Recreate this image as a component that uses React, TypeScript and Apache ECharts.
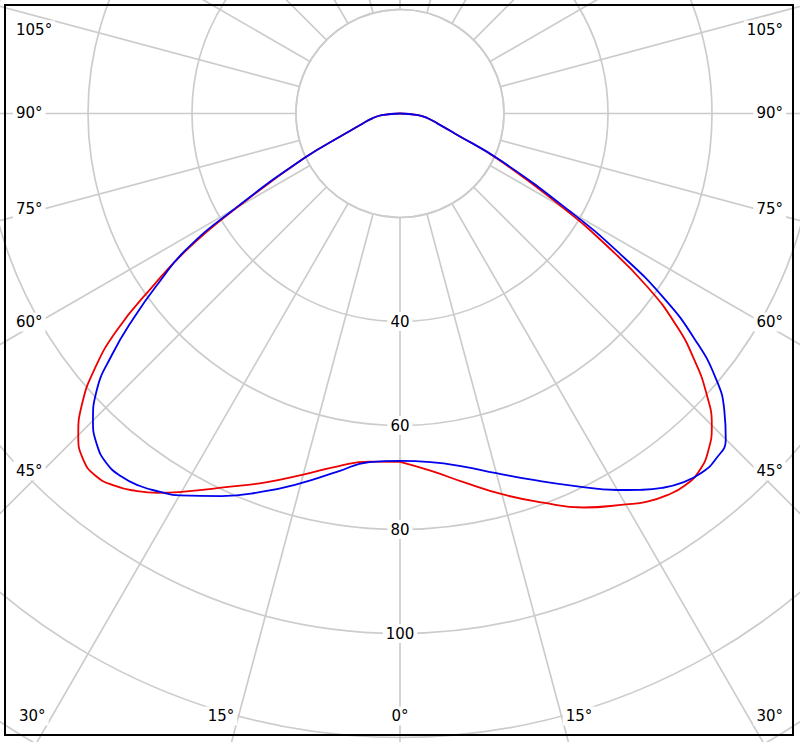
import React, { useEffect, useRef } from 'react';
import * as echarts from 'echarts';

// Polar angles (degrees from nadir) at which intensities were read
const angles = [0, 5, 10, 15, 20, 25, 30, 32.5, 35, 37.5, 40, 42.5, 45, 47.5, 50, 52.5, 55, 57.5, 60, 65, 70, 75, 80, 85, 90];

// Red curve: left half-plane and right half-plane
const redLeft = [67.0, 67.2, 68.9, 71.9, 75.5, 79.3, 84.0, 86.5, 88.6, 90.2, 91.0, 90.2, 87.5, 83.0, 76.8, 68.8, 58.2, 48.2, 36.2, 20.3, 11.0, 7.4, 5.4, 3.5, 0];
const redRight = [67.0, 69.0, 72.1, 75.8, 79.6, 83.6, 86.8, 88.5, 89.6, 90.1, 89.6, 87.8, 84.8, 80.0, 74.0, 67.0, 58.0, 46.8, 36.0, 20.8, 11.2, 7.5, 5.5, 3.5, 0];

// Blue curve: left half-plane and right half-plane
const blueLeft = [66.8, 67.3, 70.0, 73.6, 77.4, 81.2, 84.8, 86.2, 87.4, 88.0, 87.8, 86.3, 83.5, 79.2, 72.4, 64.5, 56.5, 48.9, 37.0, 20.3, 11.0, 7.4, 5.4, 3.5, 0];
const blueRight = [66.8, 67.3, 68.9, 71.6, 75.0, 79.0, 83.6, 85.8, 87.9, 89.4, 90.2, 90.0, 88.6, 84.6, 79.3, 71.6, 62.0, 50.0, 38.0, 21.3, 11.2, 7.5, 5.5, 3.5, 0];

// Radius tick labels shown on the chart
const radiusTicks = [40, 60, 80, 100];

// Angle tick labels
const angleLabels = ['0°', '15°', '30°', '45°', '60°', '75°', '90°', '105°'];

const FONT = '"DejaVu Sans", Verdana, sans-serif';

function buildCurve(left: number[], right: number[]) {
  const pts: [number, number][] = [];
  angles.forEach((a, i) => pts.push([left[i], a]));
  // right half, skipping the shared 90° (centre) and 0° (nadir) points
  for (let i = angles.length - 2; i >= 1; i--) pts.push([right[i], 360 - angles[i]]);
  pts.push([left[0], 360]);
  return pts;
}

export default function App() {
  const ref = useRef<HTMLDivElement>(null);

  useEffect(() => {
    document.body.style.margin = '0';
    const chart = echarts.init(ref.current!, null, { renderer: 'svg' });

    const cx = 400;
    const cy = 113.5;
    const pxPerUnit = 5.2;
    const maxR = 160;
    const innerR = 20;

    // label layout (positions only)
    const sideY: Record<string, number> = { '45°': 471, '60°': 322, '75°': 209, '90°': 113, '105°': 30 };
    const texts: any[] = [];
    const mk = (text: string, x: number, y: number, align: string) => ({
      type: 'text',
      x,
      y,
      z: 50,
      style: {
        text,
        font: `15px ${FONT}`,
        fill: '#000',
        align,
        verticalAlign: 'middle',
        backgroundColor: '#fff',
        padding: [2, 3],
      },
    });
    angleLabels.forEach((t) => {
      if (sideY[t] !== undefined) {
        texts.push(mk(t, 13, sideY[t], 'left'));
        texts.push(mk(t, 786, sideY[t], 'right'));
      }
    });
    texts.push(mk('0°', 400, 716, 'center'));
    texts.push(mk('15°', 221, 716, 'center'));
    texts.push(mk('15°', 579, 716, 'center'));
    texts.push(mk('30°', 16, 716, 'left'));
    texts.push(mk('30°', 786, 716, 'right'));

    const gridColor = '#cccccc';

    chart.setOption({
      animation: false,
      backgroundColor: '#fff',
      polar: {
        center: [cx, cy],
        radius: maxR * pxPerUnit,
      },
      angleAxis: {
        type: 'value',
        min: 0,
        max: 360,
        interval: 15,
        startAngle: 270,
        clockwise: true,
        axisLine: { show: false },
        axisTick: { show: false },
        axisLabel: { show: false },
        splitLine: { show: true, lineStyle: { color: gridColor, width: 1.7 } },
        z: 0,
      },
      radiusAxis: {
        type: 'value',
        min: 0,
        max: maxR,
        interval: 20,
        axisLine: { show: false },
        axisTick: { show: false },
        splitLine: { show: true, lineStyle: { color: gridColor, width: 1.7 } },
        axisLabel: {
          show: true,
          margin: 0,
          align: 'center',
          verticalAlign: 'middle',
          formatter: (v: number) => (radiusTicks.includes(v) ? `{t|${v}}` : ''),
          rich: {
            t: {
              fontSize: 15,
              fontFamily: FONT,
              color: '#000',
              backgroundColor: '#fff',
              padding: [2, 3],
            },
          },
        },
        z: 10,
      },
      series: [
        {
          type: 'line',
          coordinateSystem: 'polar',
          data: buildCurve(redLeft, redRight),
          showSymbol: false,
          smooth: 0.5,
          clip: false,
          lineStyle: { color: '#ee0000', width: 1.8 },
          z: 20,
        },
        {
          type: 'line',
          coordinateSystem: 'polar',
          data: buildCurve(blueLeft, blueRight),
          showSymbol: false,
          smooth: 0.5,
          clip: false,
          lineStyle: { color: '#0000ee', width: 1.8 },
          z: 21,
        },
      ],
      graphic: [
        {
          type: 'circle',
          z: 1,
          shape: { cx, cy, r: innerR * pxPerUnit },
          style: { fill: '#fff', stroke: gridColor, lineWidth: 1.7 },
        },
        ...texts,
        {
          type: 'rect',
          z: 100,
          shape: { x: 5, y: 5, width: 788, height: 730 },
          style: { fill: 'none', stroke: '#000', lineWidth: 2 },
        },
      ],
    });

    return () => chart.dispose();
  }, []);

  return <div ref={ref} style={{ width: 800, height: 742 }} />;
}
